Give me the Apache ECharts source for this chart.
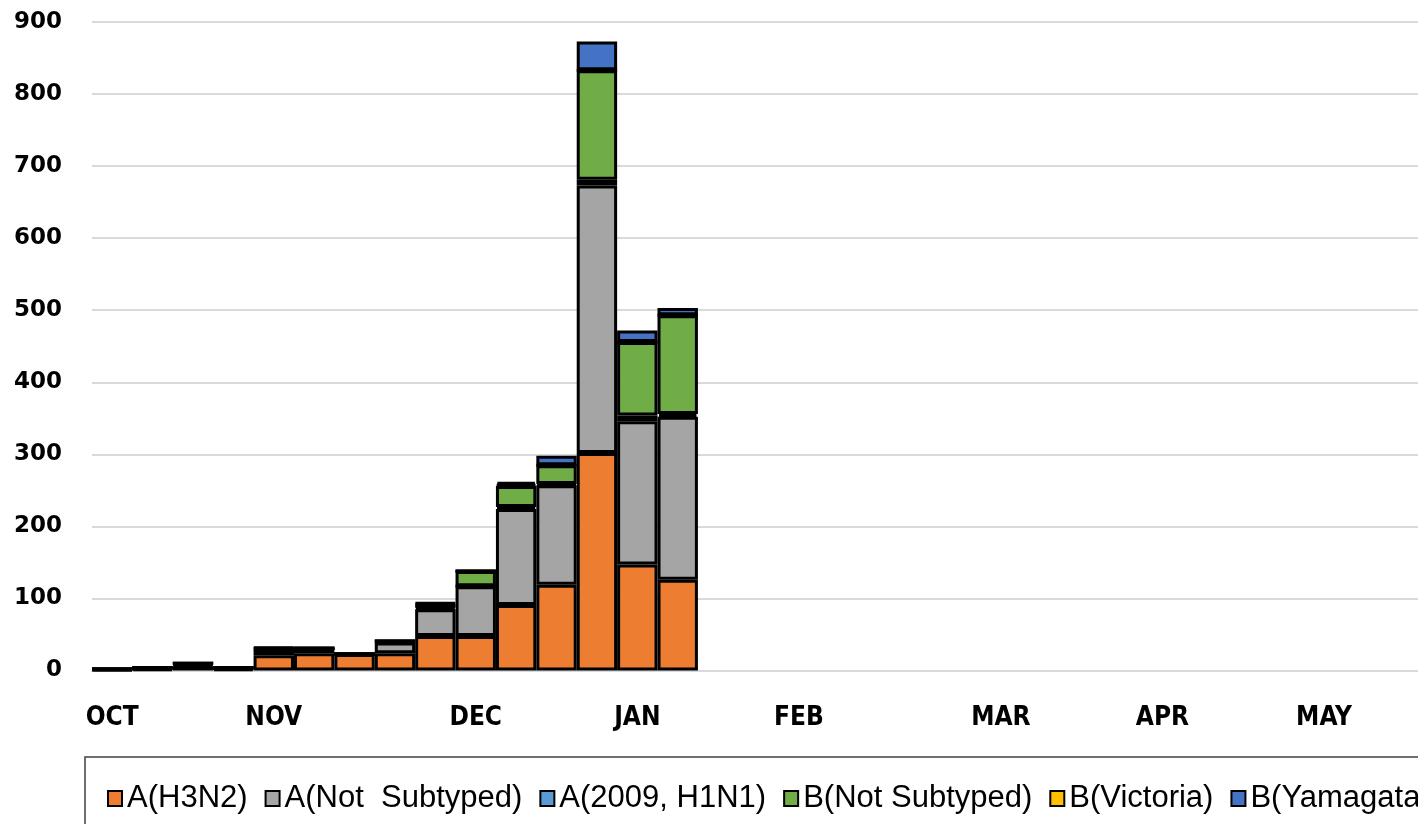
<!DOCTYPE html>
<html>
<head>
<meta charset="utf-8">
<script src="https://cdn.jsdelivr.net/npm/echarts@6/dist/echarts.min.js"></script>
<style>
  html, body { margin: 0; padding: 0; background: #fff; width: 1418px; height: 824px; overflow: hidden; }
  #chart { width: 1425px; height: 824px; }
</style>
</head>
<body>
<div id="chart"></div>
<script>
// Surveillance weeks (week 40 through week 20)
const weeks = ['40','41','42','43','44','45','46','47','48','49','50','51','52',
               '1','2','3','4','5','6','7','8','9','10','11','12','13','14','15','16','17','18','19','20'];
const monthLabels = ['OCT','','','','NOV','','','','','DEC','','','','JAN','','','','FEB','','','','','MAR','','','','APR','','','','MAY','',''];

const seriesNames = ['A(H3N2)', 'A(Not  Subtyped)', 'A(2009, H1N1)', 'B(Not Subtyped)', 'B(Victoria)', 'B(Yamagata)'];
const seriesColors = ['#ED7D31', '#A5A5A5', '#5B9BD5', '#70AD47', '#FFC000', '#4472C4'];

const aH3N2      = [1, 2, 6, 2, 21, 24, 23, 24, 48, 48, 91, 119, 302, 147, 126];
const aNotSub    = [1, 1, 2, 1, 8, 7, 0, 15, 37, 69, 133, 138, 371, 199, 226];
const aH1N1      = [0, 0, 1, 0, 1, 0, 0, 1, 2, 0, 3, 2, 8, 8, 4];
const bNotSub    = [0, 1, 1, 1, 1, 0, 0, 1, 5, 21, 29, 26, 152, 102, 137];
const bVictoria  = [0, 0, 0, 0, 0, 0, 0, 0, 1, 0, 2, 0, 0, 0, 0];
const bYamagata  = [0, 0, 0, 0, 1, 0, 0, 0, 1, 0, 4, 13, 40, 16, 10];

const yTicks = { min: 0, max: 900, interval: 100 };

const seriesData = [aH3N2, aNotSub, aH1N1, bNotSub, bVictoria, bYamagata];

const chart = echarts.init(document.getElementById('chart'), null, { renderer: 'canvas', width: 1425, height: 824 });

const series = seriesNames.map((name, i) => ({
  name: name,
  type: 'bar',
  stack: 'total',
  barWidth: '100%',
  barCategoryGap: '0%',
  data: seriesData[i],
  itemStyle: { color: seriesColors[i], borderColor: '#000', borderWidth: 3 },
  emphasis: { disabled: true },
  animation: false
}));

chart.setOption({
  animation: false,
  backgroundColor: '#fff',
  grid: { left: 92, top: 22, right: 0, bottom: 153.5, containLabel: false },
  xAxis: {
    type: 'category',
    data: weeks,
    boundaryGap: true,
    axisTick: { show: false },
    axisLine: { lineStyle: { color: '#d9d9d9', width: 2 } },
    axisLabel: {
      interval: 0,
      margin: 35,
      color: '#000',
      fontWeight: 'bold',
      fontSize: 26,
      fontFamily: "'DejaVu Sans Condensed', 'DejaVu Sans', sans-serif",
      formatter: (v, i) => monthLabels[i]
    }
  },
  yAxis: {
    type: 'value',
    min: yTicks.min,
    max: yTicks.max,
    interval: yTicks.interval,
    axisLine: { show: false },
    axisTick: { show: false },
    splitLine: { lineStyle: { color: '#d9d9d9', width: 2 } },
    axisLabel: {
      margin: 30,
      color: '#000',
      fontWeight: 'bold',
      fontSize: 23,
      fontFamily: "'DejaVu Sans', sans-serif"
    }
  },
  legend: {
    left: 85,
    top: 757,
    width: 1700,
    orient: 'horizontal',
    padding: [26, 10, 24, 22],
    itemGap: 17,
    itemWidth: 14,
    itemHeight: 15,
    borderColor: '#404040',
    borderWidth: 1.5,
    borderRadius: 0,
    icon: 'rect',
    itemStyle: { borderColor: '#000', borderWidth: 2 },
    textStyle: {
      color: '#000',
      fontSize: 31,
      fontFamily: "'Liberation Sans', Arial, sans-serif"
    },
    data: seriesNames,
    selectedMode: false
  },
  series: series
});
</script>
</body>
</html>
